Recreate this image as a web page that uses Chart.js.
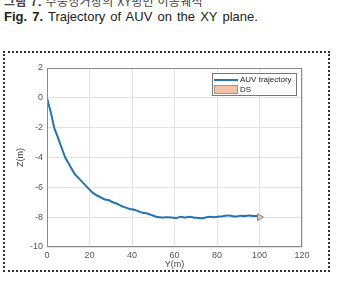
<!DOCTYPE html>
<html lang="ko">

<head>
    <meta charset="UTF-8">
    <title>Fig. 7</title>
    <script src="https://cdn.jsdelivr.net/npm/chart.js"></script>

    <style>
        body {
            margin: 0;
            width: 337px;
            height: 282px;
            overflow: hidden;
            background-color: #ffffff;
            position: relative;
            font-family: "Liberation Sans", Arial, sans-serif;
        }

        .cap-ko {
            position: absolute;
            left: 4px;
            top: -8px;
            font-size: 12px;
            color: #444;
            white-space: nowrap;
            letter-spacing: 0.3px;
            font-family: "Noto Sans CJK KR", sans-serif;
        }

        .cap-en {
            position: absolute;
            left: 4px;
            top: 9px;
            font-size: 13px;
            word-spacing: 1.5px;
            color: #222;
            white-space: nowrap;
        }

        .caixa {
            position: absolute;
            left: 3px;
            top: 51px;
            width: 323px;
            height: 217px;
            border: 2px dotted #333;
        }

        #grafico {
            position: absolute;
            left: 0;
            top: 0;
        }
    </style>
</head>

<body>
    <div class="cap-ko"><b>그림 7.</b> 수중정거장의 XY평면 이동궤적</div>
    <div class="cap-en"><b>Fig. 7.</b> Trajectory of AUV on the XY plane.</div>
    <div class="caixa"></div>
    <canvas id="grafico" width="337" height="282"></canvas>
</body>

</html>

<script>
    // trajetoria do AUV
    var posY = [0, 1, 2, 3.4, 5, 7, 8.6, 11, 13, 15, 17, 19, 21, 23, 25, 27, 29, 31, 33, 35, 37, 39, 41, 43, 45, 47, 49,
        51, 53, 55, 57, 59, 61, 63, 65, 67, 69, 71, 73, 75, 77, 79, 81, 83, 85, 87, 89, 91, 93, 95, 97, 99];
    var posZ = [0, -0.55, -1.1, -2.0, -2.6, -3.4, -4.0, -4.6, -5.1, -5.4, -5.7, -6.0, -6.3, -6.5, -6.65, -6.8, -6.85,
        -7.0, -7.1, -7.25, -7.35, -7.45, -7.5, -7.6, -7.7, -7.75, -7.85, -7.95, -8.0, -8.02, -8.0, -8.03, -8.05, -7.98,
        -8.03, -7.97, -8.02, -8.05, -8.08, -8.0, -7.98, -8.0, -7.96, -7.93, -7.88, -7.92, -7.96, -7.9, -7.93, -7.89,
        -7.92, -7.93];

    // estacao de docking
    var dsY = [100];
    var dsZ = [-8];

    var ticksY = [0, 20, 40, 60, 80, 100, 120];
    var ticksZ = [2, 0, -2, -4, -6, -8, -10];

    var corLinha = '#2274b5';
    var corDS = '#f2c1a8';

    var pontos = posY.map((y, i) => ({ x: y, y: posZ[i] }));
    var pontosDS = dsY.map((y, i) => ({ x: y, y: dsZ[i] }));

    // caixa em volta da area do grafico + legenda dentro
    var caixaPlugin = {
        id: 'caixa',
        afterDatasetsDraw(chart) {
            var ctx = chart.ctx;
            var a = chart.chartArea;
            ctx.save();
            ctx.strokeStyle = '#8a8a8a';
            ctx.lineWidth = 1;
            ctx.strokeRect(a.left + 0.5, a.top + 0.5, a.right - a.left - 1, a.bottom - a.top - 1);

            // legenda
            var lx = a.right - 90, ly = a.top + 5;
            ctx.fillStyle = '#ffffff';
            ctx.fillRect(lx, ly, 84, 22);
            ctx.strokeStyle = '#777';
            ctx.strokeRect(lx + 0.5, ly + 0.5, 84, 22);

            ctx.strokeStyle = corLinha;
            ctx.lineWidth = 2;
            ctx.beginPath();
            ctx.moveTo(lx + 2, ly + 7);
            ctx.lineTo(lx + 26, ly + 7);
            ctx.stroke();

            ctx.fillStyle = corDS;
            ctx.fillRect(lx + 2, ly + 12, 24, 9);
            ctx.strokeStyle = '#999';
            ctx.lineWidth = 1;
            ctx.strokeRect(lx + 2.5, ly + 12.5, 23, 8);

            ctx.fillStyle = '#222';
            ctx.font = '8px "Liberation Sans", Arial, sans-serif';
            ctx.textBaseline = 'middle';
            ctx.fillText(chart.data.datasets[0].label, lx + 28, ly + 7);
            ctx.fillText(chart.data.datasets[1].label, lx + 28, ly + 16.5);
            ctx.restore();
        }
    };

    var grafico = new Chart(document.getElementById('grafico').getContext('2d'), {
        type: 'scatter',
        data: {
            datasets: [{
                label: 'AUV trajectory',
                data: pontos,
                showLine: true,
                borderColor: corLinha,
                borderWidth: 2,
                pointRadius: 0,
                tension: 0.2
            }, {
                label: 'DS',
                data: pontosDS,
                pointStyle: 'triangle',
                rotation: 90,
                pointRadius: 4,
                backgroundColor: corDS,
                borderColor: '#888',
                borderWidth: 1
            }]
        },
        options: {
            responsive: false,
            animation: false,
            devicePixelRatio: 1,
            layout: {
                padding: { left: 0, top: 68, right: 35, bottom: 0 }
            },
            plugins: {
                legend: { display: false },
                tooltip: { enabled: false }
            },
            scales: {
                x: {
                    type: 'linear',
                    min: 0,
                    max: 120,
                    afterFit: (s) => { s.height = 35; },
                    afterBuildTicks: (s) => { s.ticks = ticksY.map(v => ({ value: v })); },
                    grid: { color: '#e2e2e2', drawTicks: false },
                    border: { display: false },
                    ticks: {
                        padding: 3,
                        color: '#555',
                        font: { size: 9, family: '"Liberation Sans", Arial, sans-serif' }
                    },
                    title: {
                        display: true,
                        text: 'Y(m)',
                        color: '#444',
                        padding: { top: 0, bottom: 12 },
                        font: { size: 9, family: '"Liberation Sans", Arial, sans-serif' }
                    }
                },
                y: {
                    type: 'linear',
                    min: -10,
                    max: 2,
                    afterFit: (s) => { s.width = 47; },
                    afterBuildTicks: (s) => { s.ticks = ticksZ.map(v => ({ value: v })); },
                    grid: { color: '#e2e2e2', drawTicks: false },
                    border: { display: false },
                    ticks: {
                        padding: 4,
                        color: '#555',
                        font: { size: 9, family: '"Liberation Sans", Arial, sans-serif' }
                    },
                    title: {
                        display: true,
                        text: 'Z(m)',
                        color: '#444',
                        padding: { top: 15, bottom: 0 },
                        font: { size: 9, family: '"Liberation Sans", Arial, sans-serif' }
                    }
                }
            }
        },
        plugins: [caixaPlugin]
    });
</script>
